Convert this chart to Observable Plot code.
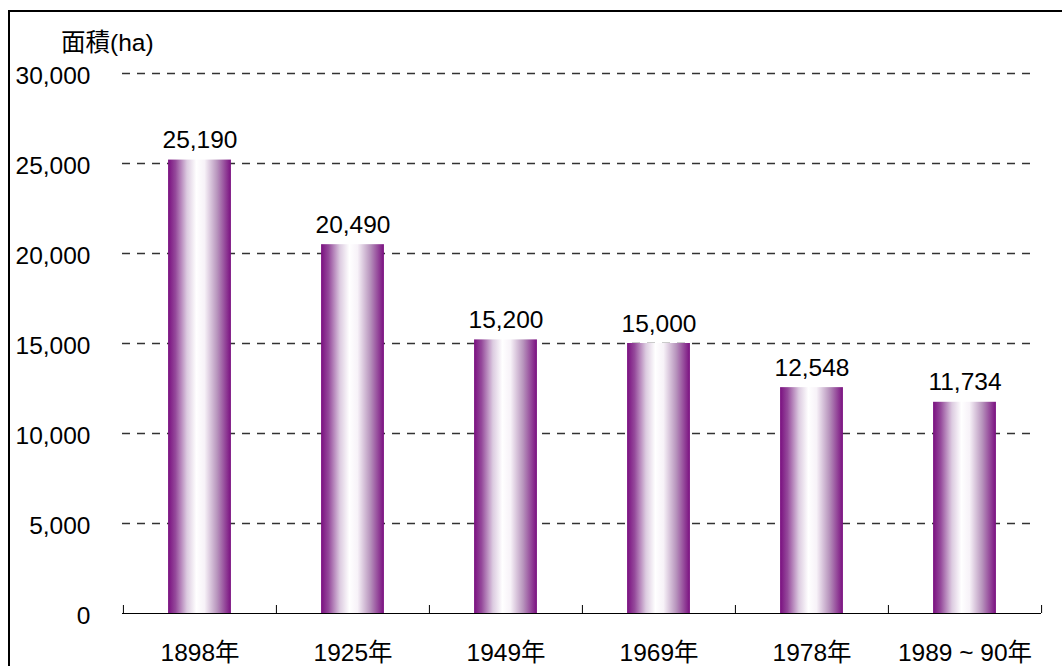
<!DOCTYPE html>
<html>
<head>
<meta charset="utf-8">
<script src="https://cdn.jsdelivr.net/npm/d3@7"></script>
<script src="https://cdn.jsdelivr.net/npm/@observablehq/plot@0.6"></script>
<style>
  html, body { margin: 0; padding: 0; background: #fff; overflow: hidden; }
  #wrap { position: relative; width: 1062px; height: 666px; font-family: "Liberation Sans", Arial, "Noto Sans CJK JP", sans-serif; }
  #frame { position: absolute; left: 8px; top: 10px; right: -10px; bottom: -10px; border-left: 2px solid #000; border-top: 2px solid #000; pointer-events: none; }
  #ylabel { position: absolute; left: 61px; top: 28px; font-size: 24.5px; color: #000; line-height: 30px; }
</style>
</head>
<body>
<div id="wrap">
  <div id="frame"></div>
  <div id="ylabel">面積(ha)</div>
</div>
<script>
const categories = ["1898年", "1925年", "1949年", "1969年", "1978年", "1989 ~ 90年"];
const values = [25190, 20490, 15200, 15000, 12548, 11734];
const yTicks = [0, 5000, 10000, 15000, 20000, 25000, 30000];
const gridTicks = [5000, 10000, 15000, 20000, 25000, 30000];

const data = categories.map((c, i) => ({ year: c, area: values[i] }));

const W = 1062, H = 666, ML = 122, MR = 21, MT = 73, MB = 53;
const step = (W - ML - MR) / categories.length;
const barW = 63;
const inset = (step - barW) / 2;
const fmt = d3.format(",");
const FS = 24.5;

const plot = Plot.plot({
  width: W,
  height: H,
  marginLeft: ML,
  marginRight: MR,
  marginTop: MT,
  marginBottom: MB,
  style: { fontFamily: '"Liberation Sans", Arial, "Noto Sans CJK JP", sans-serif', fontSize: FS + "px", color: "#000", background: "transparent" },
  x: { type: "band", domain: categories, padding: 0 },
  y: { domain: [0, 30000], ticks: yTicks },
  marks: [
    Plot.gridY(gridTicks, { stroke: "#333", strokeOpacity: 1, strokeWidth: 1.3, strokeDasharray: "8,7", insetRight: 4 }),
    Plot.barY(data, { x: "year", y: "area", fill: "url(#barGrad)", insetLeft: inset, insetRight: inset }),
    Plot.text(data, { x: "year", y: "area", text: d => fmt(d.area), lineAnchor: "bottom", dy: -12, fontSize: FS }),
    Plot.ruleY([0], { stroke: "#000", strokeWidth: 1.2 }),
    Plot.ruleX(categories, { x: d => d, dx: -step / 2, stroke: "#000", insetTop: H - MT - MB - 8 }),
    Plot.ruleX(categories.slice(-1), { x: d => d, dx: step / 2, stroke: "#000", insetTop: H - MT - MB - 8 }),
    Plot.axisY({ ticks: yTicks, tickSize: 0, tickPadding: 32, dy: 3, tickFormat: d => fmt(d), label: null, fontSize: FS }),
    Plot.axisX({ tickSize: 0, tickPadding: 30, label: null, fontSize: FS })
  ]
});

const ns = "http://www.w3.org/2000/svg";
const defs = document.createElementNS(ns, "defs");
defs.innerHTML = `<linearGradient id="barGrad" x1="0" x2="1" y1="0" y2="0">
  <stop offset="0%" stop-color="#7a0f80"/>
  <stop offset="12%" stop-color="#954a9b"/>
  <stop offset="30%" stop-color="#dccbe0"/>
  <stop offset="45%" stop-color="#ffffff"/>
  <stop offset="58%" stop-color="#f7f2f8"/>
  <stop offset="78%" stop-color="#b895bd"/>
  <stop offset="100%" stop-color="#7a0f80"/>
</linearGradient>`;
plot.insertBefore(defs, plot.firstChild);
plot.style.position = "absolute";
plot.style.left = "0";
plot.style.top = "0";
document.getElementById("wrap").insertBefore(plot, document.getElementById("frame"));
</script>
</body>
</html>
